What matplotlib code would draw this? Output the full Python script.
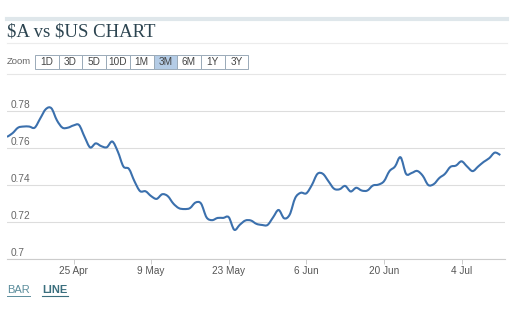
import matplotlib.pyplot as plt
import matplotlib.dates as mdates
from matplotlib.path import Path
from matplotlib.patches import PathPatch
import pandas as pd

# daily AUD/USD closes, 13 Apr -> 11 Jul
start_date = '2016-04-13'
rates = [
    0.7660, 0.7680, 0.7710, 0.7716, 0.7716, 0.7710, 0.7760, 0.7810, 0.7815, 0.7750,
    0.7710, 0.7710, 0.7722, 0.7724, 0.7660, 0.7603, 0.7625, 0.7610, 0.7604, 0.7635,
    0.7580, 0.7500, 0.7487, 0.7420, 0.7367, 0.7366, 0.7340, 0.7325, 0.7350, 0.7340,
    0.7300, 0.7275, 0.7270, 0.7275, 0.7305, 0.7300, 0.7225, 0.7210, 0.7222, 0.7222,
    0.7226, 0.7158, 0.7185, 0.7208, 0.7208, 0.7190, 0.7184, 0.7184, 0.7225, 0.7265,
    0.7220, 0.7240, 0.7330, 0.7358, 0.7355, 0.7400, 0.7460, 0.7460, 0.7420, 0.7380,
    0.7377, 0.7395, 0.7365, 0.7385, 0.7370, 0.7370, 0.7397, 0.7402, 0.7420, 0.7475,
    0.7500, 0.7550, 0.7460, 0.7465, 0.7476, 0.7450, 0.7400, 0.7405, 0.7438, 0.7460,
    0.7498, 0.7505, 0.7528, 0.7500, 0.7475, 0.7500, 0.7525, 0.7545, 0.7575, 0.7562,
]
y_ticks = [0.70, 0.72, 0.74, 0.76, 0.78]
y_labels = ['0.7', '0.72', '0.74', '0.76', '0.78']
x_ticks = ['2016-04-25', '2016-05-09', '2016-05-23', '2016-06-06', '2016-06-20', '2016-07-04']
x_labels = ['25 Apr', '9 May', '23 May', '6 Jun', '20 Jun', '4 Jul']
zoom_buttons = ['1D', '3D', '5D', '10D', '1M', '3M', '6M', '1Y', '3Y']
active_button = '3M'

W, H = 522, 330
dates = pd.date_range(start_date, periods=len(rates), freq='D')

fig = plt.figure(figsize=(W / 100, H / 100), dpi=100)
fig.patch.set_facecolor('white')


def fx(px):
    return px / W


def fy(py):
    return 1 - py / H


def hline(y, x0, x1, color, lw):
    fig.add_artist(plt.Line2D([fx(x0), fx(x1)], [fy(y), fy(y)], color=color, lw=lw))


def spline_path(xs, ys, tension=0.5):
    # catmull-rom through the points, drawn as cubic bezier segments
    verts = [(xs[0], ys[0])]
    codes = [Path.MOVETO]
    n = len(xs)
    for i in range(n - 1):
        x0, y0 = xs[max(i - 1, 0)], ys[max(i - 1, 0)]
        x1, y1 = xs[i], ys[i]
        x2, y2 = xs[i + 1], ys[i + 1]
        x3, y3 = xs[min(i + 2, n - 1)], ys[min(i + 2, n - 1)]
        c1 = (x1 + (x2 - x0) * tension / 3, y1 + (y2 - y0) * tension / 3)
        c2 = (x2 - (x3 - x1) * tension / 3, y2 - (y3 - y1) * tension / 3)
        verts += [c1, c2, (x2, y2)]
        codes += [Path.CURVE4] * 3
    return Path(verts, codes)


# header
hline(18.5, 7, 507, '#dfe7eb', 3.0)
fig.text(fx(7), fy(32), '$A vs $US CHART', family='Liberation Serif', fontsize=13.5,
         color='#2c4450', va='center', ha='left', parse_math=False)
hline(43, 7, 507, '#ececec', 0.8)

# zoom buttons
fig.text(fx(7), fy(62), 'Zoom', family='Liberation Sans', fontsize=6.8, color='#666666',
         va='center', ha='left')
bx0, bw, by0, bh = 35, 23.7, 55, 14
for i, lab in enumerate(zoom_buttons):
    x0 = bx0 + i * bw
    face = '#b4cce6' if lab == active_button else 'white'
    fig.add_artist(plt.Rectangle((fx(x0), fy(by0 + bh)), fx(bw), bh / H,
                                 facecolor=face, edgecolor='#9aaab8', lw=0.7))
    fig.text(fx(x0 + bw / 2), fy(by0 + bh / 2), lab, family='Liberation Sans',
             fontsize=7.2, color='#444444', ha='center', va='center')
hline(73.5, 7, 505, '#e6e6e6', 0.8)

# chart area
ax_top, ax_bottom, ax_left, ax_right = 95, 259, 7, 505
ax = fig.add_axes([fx(ax_left), fy(ax_bottom), fx(ax_right - ax_left), (ax_bottom - ax_top) / H])
px_per_day = 5.543
ax.set_xlim(dates[0], dates[0] + pd.Timedelta(days=(ax_right - ax_left) / px_per_day))
ax.set_ylim(0.70, 0.78 + 16 * 0.02 / 37)

for t in y_ticks:
    ax.axhline(t, color='#dddddd', lw=0.8, zorder=0)
xnum = mdates.date2num(dates)
ax.add_patch(PathPatch(spline_path(list(xnum), rates), facecolor='none',
                       edgecolor='#3b70ad', lw=1.5, joinstyle='round', zorder=3))

for spine in ['top', 'right', 'left']:
    ax.spines[spine].set_visible(False)
ax.spines['bottom'].set_color('#cccccc')
ax.spines['bottom'].set_linewidth(0.8)

ax.set_yticks([])
for t, lab in zip(y_ticks, y_labels):
    ax.annotate(lab, xy=(0, t), xycoords=('axes fraction', 'data'), xytext=(2.5, 4),
                textcoords='offset points', fontsize=7.3, color='#666666',
                family='Liberation Sans', va='center', ha='left')

ax.set_xticks(pd.to_datetime(x_ticks))
ax.set_xticklabels(x_labels)
ax.tick_params(axis='x', length=3.5, width=0.7, color='#cccccc', labelsize=7.2,
               labelcolor='#555555', pad=1.5)
for lab in ax.get_xticklabels():
    lab.set_family('Liberation Sans')

# chart type links
fig.text(fx(7), fy(290), 'BAR', family='Liberation Sans', fontsize=8, color='#5b8d9c',
         va='center', ha='left')
hline(296, 7, 30, '#5b8d9c', 0.7)
fig.text(fx(42), fy(290), 'LINE', family='Liberation Sans', fontsize=8, color='#3b6f7e',
         weight='bold', va='center', ha='left')
hline(296, 42, 68, '#3b6f7e', 0.8)

fig.savefig('out.png', dpi=100, facecolor='white')
